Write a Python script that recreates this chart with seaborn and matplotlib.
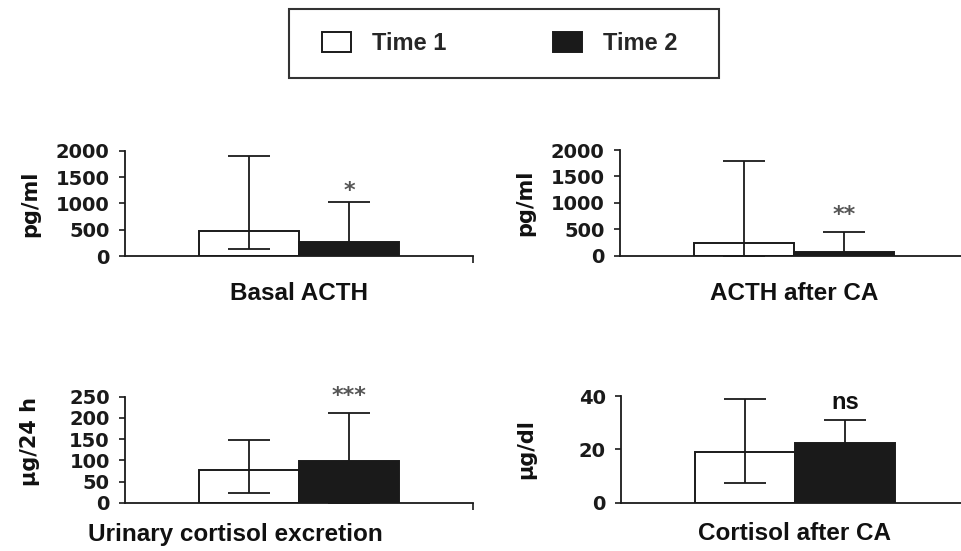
import matplotlib
matplotlib.use("Agg")
import matplotlib.pyplot as plt
from matplotlib.patches import Rectangle
import pandas as pd
import seaborn as sns

# ---- data -------------------------------------------------------------
times = ["Time 1", "Time 2"]
measures = ["Basal ACTH", "ACTH after CA", "Urinary cortisol excretion", "Cortisol after CA"]
units = ["pg/ml", "pg/ml", "µg/24 h", "µg/dl"]

basal_acth = [480, 260]
basal_acth_low = [127, 40]
basal_acth_high = [1900, 1020]

acth_after_ca = [235, 76]
acth_after_ca_low = [0, 10]
acth_after_ca_high = [1800, 450]

urinary_cortisol = [78, 99]
urinary_cortisol_low = [22, 0]
urinary_cortisol_high = [148, 212]

cortisol_after_ca = [19.1, 22.5]
cortisol_after_ca_low = [7.3, 14]
cortisol_after_ca_high = [38.8, 31]

significance = ["*", "**", "***", "ns"]
y_max = [2000, 2000, 250, 40]
y_step = [500, 500, 50, 20]

values = [basal_acth, acth_after_ca, urinary_cortisol, cortisol_after_ca]
lows = [basal_acth_low, acth_after_ca_low, urinary_cortisol_low, cortisol_after_ca_low]
highs = [basal_acth_high, acth_after_ca_high, urinary_cortisol_high, cortisol_after_ca_high]

rows = []
for m, vals in zip(measures, values):
    for t, v in zip(times, vals):
        rows.append({"measure": m, "time": t, "value": v})
df = pd.DataFrame(rows)

# ---- style ------------------------------------------------------------
sns.set_theme(style="ticks")
plt.rcParams["font.family"] = ["Liberation Sans", "DejaVu Sans"]
plt.rcParams["font.weight"] = "bold"

INK = "#1a1a1a"
palette = {"Time 1": "white", "Time 2": INK}

W, H = 961, 551
fig = plt.figure(figsize=(W / 100, H / 100), dpi=100)
fig.patch.set_facecolor("white")

# axes rectangles in pixels: left, bottom(from top), width, height
boxes = [
    (125, 256.0, 348, 105.3),
    (620, 255.7, 348, 105.7),
    (125, 502.7, 348, 106.0),
    (621, 502.7, 348, 106.7),
]
xlabel_pos = [(0.5, -0.245), (0.5, -0.245), (0.316, -0.19), (0.5, -0.18)]
ylabel_y = [0.5, 0.5, 0.58, 0.5]
star_offset = [4, 8, 8, 8]

legend_handles = None
for i, (m, box) in enumerate(zip(measures, boxes)):
    left, bottom, w, h = box
    ax = fig.add_axes([left / W, (H - bottom) / H, w / W, h / H])
    sub = df[df["measure"] == m]
    sns.barplot(data=sub, x="measure", y="value", hue="time", hue_order=times,
                palette=palette, edgecolor=INK, linewidth=1.4, errorbar=None,
                width=0.8, ax=ax, legend=(i == 0), zorder=2)
    if i == 0:
        legend_handles, legend_labels = ax.get_legend_handles_labels()
        ax.legend_.remove()

    # asymmetric error bars centred on each bar
    bar_groups = list(ax.containers)
    for j, cont in enumerate(bar_groups):
        bar = cont.patches[0]
        cx = bar.get_x() + bar.get_width() / 2
        v = values[i][j]
        eb = ax.errorbar(cx, v, yerr=[[v - lows[i][j]], [highs[i][j] - v]], fmt="none",
                         ecolor=INK, elinewidth=1.3, capsize=15, capthick=1.3, zorder=3)
        for art in list(eb.lines[1]) + list(eb.lines[2]):
            art.set_clip_on(False)
        if j == 1:
            sig = significance[i]
            if sig == "ns":
                ax.annotate(sig, xy=(cx, highs[i][j]), xytext=(0, star_offset[i]),
                            textcoords="offset points", ha="center", va="baseline",
                            fontsize=17, fontweight="bold", color="#111",
                            annotation_clip=False)
            else:
                ax.annotate(sig, xy=(cx, highs[i][j]), xytext=(0, star_offset[i]),
                            textcoords="offset points", ha="center", va="baseline",
                            fontsize=16, fontweight="bold", color="#555",
                            family="DejaVu Sans", annotation_clip=False)

    ax.set_xlim(-0.696, 0.696)
    ax.set_ylim(0, y_max[i])
    ax.set_yticks(range(0, y_max[i] + 1, y_step[i]))
    ax.set_xticks([])
    ax.set_xticks([0.696], minor=True)
    ax.tick_params(axis="x", which="minor", length=5, width=1.2, color=INK)
    ax.tick_params(axis="y", length=4, width=1.2, pad=7, color=INK, labelcolor="#1a1a1a")
    for lbl in ax.get_yticklabels():
        lbl.set_fontfamily("DejaVu Sans")
        lbl.set_fontweight("bold")
        lbl.set_fontsize(14)
    sns.despine(ax=ax)
    for s in ("left", "bottom"):
        ax.spines[s].set_linewidth(1.3)
        ax.spines[s].set_color(INK)

    ax.set_xlabel(m, fontsize=17.5, fontweight="bold", color="#111", va="top")
    ax.xaxis.set_label_coords(*xlabel_pos[i])
    ax.set_ylabel(units[i], fontsize=15, fontweight="bold", family="DejaVu Sans", color="#111")
    ax.yaxis.set_label_coords(-0.244, ylabel_y[i])
    ax.set_facecolor("none")

# ---- legend -----------------------------------------------------------
fig.patches.append(Rectangle((289 / W, 1 - 78 / H), 430 / W, 69 / H, transform=fig.transFigure,
                             facecolor="none", edgecolor="#333", linewidth=1.5))
fig.legend(legend_handles, legend_labels, loc="center left",
           bbox_to_anchor=(322 / W, 1 - 43.5 / H), ncol=2, frameon=False,
           borderpad=0, borderaxespad=0, handlelength=1.23, handleheight=0.97,
           handletextpad=0.9, columnspacing=4.5,
           prop={"family": "Liberation Sans", "weight": "bold", "size": 17})

fig.savefig("out.png", dpi=100)
